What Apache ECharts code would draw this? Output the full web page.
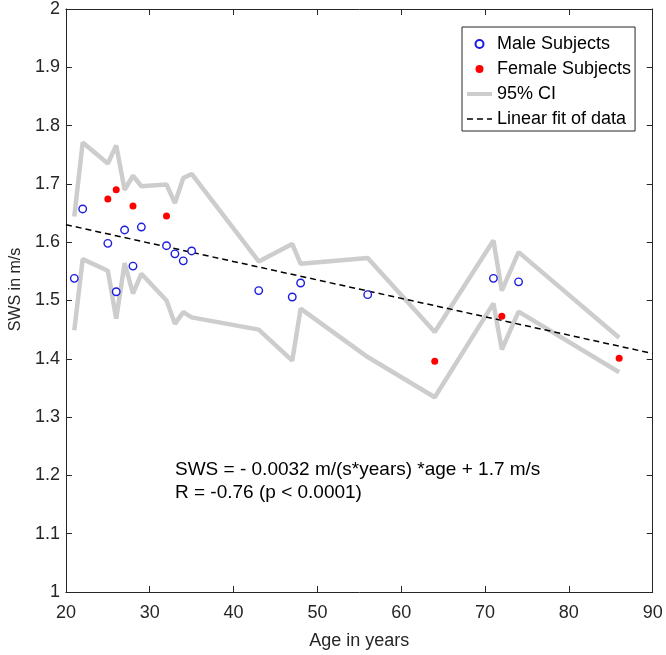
<!DOCTYPE html>
<html>
<head>
<meta charset="utf-8">
<script src="https://cdn.jsdelivr.net/npm/echarts@6/dist/echarts.min.js"></script>
<style>
html,body{margin:0;padding:0;background:#fff;}
#chart{width:666px;height:655px;}
</style>
</head>
<body>
<div id="chart"></div>
<script>
var maleAge = [21,22,25,26,27,28,29,32,33,34,35,43,47,48,56,71,74];
var maleSWS = [1.538,1.657,1.598,1.515,1.621,1.559,1.626,1.594,1.580,1.568,1.585,1.517,1.506,1.530,1.510,1.538,1.532];
var femaleAge = [25,26,28,32,64,72,86];
var femaleSWS = [1.674,1.690,1.662,1.645,1.396,1.473,1.401];
var ciAge = [21,22,25,26,27,28,29,32,33,34,35,43,47,48,56,64,71,72,74,86];
var ciUpper = [1.644,1.771,1.735,1.766,1.690,1.714,1.696,1.699,1.667,1.710,1.717,1.567,1.597,1.563,1.573,1.446,1.603,1.517,1.583,1.436];
var ciLower = [1.449,1.571,1.551,1.469,1.564,1.512,1.546,1.500,1.460,1.480,1.471,1.450,1.397,1.486,1.403,1.334,1.495,1.416,1.481,1.377];
var fitAge = [20,90];
var fitSWS = [1.630,1.409];
var xTicks = [20,30,40,50,60,70,80,90];
var annotationLines = ['SWS = - 0.0032 m/(s*years) *age + 1.7 m/s', 'R = -0.76 (p < 0.0001)'];

function zip(a,b){return a.map(function(v,i){return [v,b[i]];});}

var FONT = 'Liberation Sans, Arial, sans-serif';
var AX = '#262626';
var BLUE = '#1c1ce0';
var RED = '#ff0000';
var GRAY = '#cdcdcd';
var chart = echarts.init(document.getElementById('chart'));

var baseX = {type:'value', min:20, max:90, interval:10,
  axisLine:{show:true, onZero:false, lineStyle:{color:AX,width:1}},
  axisTick:{show:true, inside:true, length:6, lineStyle:{color:AX}},
  splitLine:{show:false}};
var baseY = {type:'value', min:1, max:2, interval:0.1,
  axisLine:{show:true, onZero:false, lineStyle:{color:AX,width:1}},
  axisTick:{show:true, inside:true, length:6, lineStyle:{color:AX}},
  splitLine:{show:false}};

chart.setOption({
  animation:false,
  backgroundColor:'#fff',
  textStyle:{fontFamily:FONT},
  grid:{left:57.7, right:13.3, top:8.3, bottom:62.3, containLabel:false},
  xAxis:[
    Object.assign({}, baseX, {position:'bottom',
      name:'Age in years', nameLocation:'middle', nameGap:40,
      nameTextStyle:{fontSize:18, color:AX, fontFamily:FONT},
      axisLabel:{show:true, fontSize:18, color:AX, margin:12, fontFamily:FONT,
        formatter:function(v){return xTicks.indexOf(v)>=0 ? String(v) : '';}}}),
    Object.assign({}, baseX, {position:'top', axisLabel:{show:false}})
  ],
  yAxis:[
    Object.assign({}, baseY, {position:'left',
      name:'SWS in m/s', nameLocation:'middle', nameGap:39,
      nameTextStyle:{fontSize:16, color:AX, fontFamily:FONT, padding:[0,0,0,22]},
      axisLabel:{show:true, fontSize:18, color:AX, margin:6, fontFamily:FONT,
        formatter:function(v){return String(Math.round(v*10)/10);}}}),
    Object.assign({}, baseY, {position:'right', axisLabel:{show:false}})
  ],
  legend:{
    left:462, top:27, orient:'vertical',
    backgroundColor:'#fff', borderColor:AX, borderWidth:1,
    padding:[8,4,3,3], itemGap:7, itemWidth:25, itemHeight:8,
    textStyle:{fontSize:18, color:'#000', fontFamily:FONT},
    data:[
      {name:'Male Subjects'},
      {name:'Female Subjects'},
      {name:'95% CI', itemStyle:{opacity:0}, lineStyle:{width:4}},
      {name:'Linear fit of data', itemStyle:{opacity:0}, lineStyle:{width:1.5}}
    ]
  },
  graphic:[
    {type:'text', left:175, top:460, style:{text:annotationLines[0], fontSize:19, fill:'#000', fontFamily:FONT}},
    {type:'text', left:175, top:483, style:{text:annotationLines[1], fontSize:19, fill:'#000', fontFamily:FONT}}
  ],
  series:[
    {name:'95% CI', type:'line', data:zip(ciAge,ciUpper), symbol:'none', z:1,
      lineStyle:{color:GRAY, width:4.5}, itemStyle:{color:GRAY}},
    {name:'95% CI', type:'line', data:zip(ciAge,ciLower), symbol:'none', z:1,
      lineStyle:{color:GRAY, width:4.5}, itemStyle:{color:GRAY}},
    {name:'Linear fit of data', type:'line', data:zip(fitAge,fitSWS), symbol:'none', z:2,
      lineStyle:{color:'#000', width:1.5, type:[6,4]}, itemStyle:{color:'#000'}},
    {name:'Male Subjects', type:'scatter', data:zip(maleAge,maleSWS), symbol:'circle', symbolSize:7.5, z:3,
      itemStyle:{color:'#fff', borderColor:BLUE, borderWidth:1.4, opacity:1}},
    {name:'Female Subjects', type:'scatter', data:zip(femaleAge,femaleSWS), symbol:'circle', symbolSize:7, z:3,
      itemStyle:{color:RED, borderColor:RED, borderWidth:0, opacity:1}}
  ]
});
</script>
</body>
</html>
